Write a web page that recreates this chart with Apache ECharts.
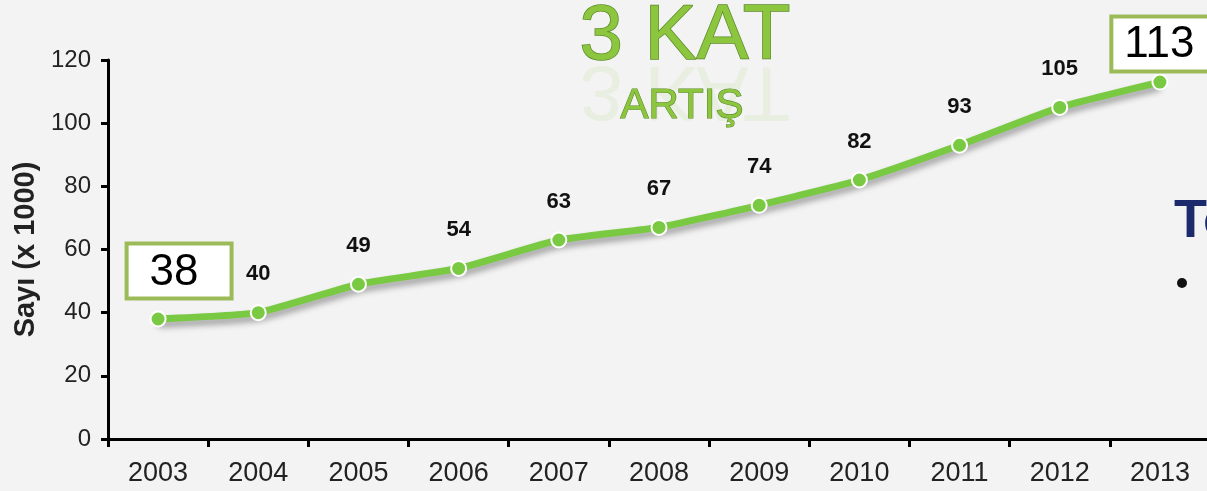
<!DOCTYPE html>
<html>
<head>
<meta charset="utf-8">
<script src="https://cdn.jsdelivr.net/npm/echarts@6/dist/echarts.min.js"></script>
<style>
  html, body { margin: 0; padding: 0; background: #f3f3f3; }
  #main { width: 1207px; height: 491px; }
</style>
</head>
<body>
<div id="main"></div>
<script>
// data
var years = ['2003', '2004', '2005', '2006', '2007', '2008', '2009', '2010', '2011', '2012', '2013'];
var counts = [38, 40, 49, 54, 63, 67, 74, 82, 93, 105, 113];
var yTicks = [0, 20, 40, 60, 80, 100, 120];

var green = '#7ac943';
var boxGreen = '#9bbb59';

var chart = echarts.init(document.getElementById('main'));

// first and last points get the boxed label
function boxLabel(offset, pad) {
  return {
    show: true,
    position: 'top',
    distance: 0,
    offset: offset,
    color: '#000',
    fontFamily: 'Liberation Sans, Arial, sans-serif',
    fontSize: 44,
    fontWeight: 'normal',
    lineHeight: 44,
    backgroundColor: '#fff',
    borderColor: boxGreen,
    borderWidth: 4,
    padding: pad
  };
}

var seriesData = counts.map(function (v, i) {
  var d = { value: v };
  if (i === 0) d.label = boxLabel([21, -14], [5, 31, 2, 21]);
  if (i === counts.length - 1) d.label = boxLabel([9, -4], [4, 30, 3, 11]);
  return d;
});

var option = {
  backgroundColor: '#f3f3f3',
  animation: false,
  grid: { left: 108, top: 60, bottom: 52, width: 1102, outerBoundsMode: 'none' },
  xAxis: {
    type: 'category',
    data: years,
    boundaryGap: true,
    axisLine: { lineStyle: { color: '#000', width: 3 } },
    axisTick: { show: true, length: 8, lineStyle: { color: '#000', width: 3 } },
    axisLabel: { color: '#222', fontFamily: 'Liberation Sans, Arial', fontSize: 27, margin: 21 },
    splitLine: { show: false }
  },
  yAxis: {
    type: 'value',
    min: yTicks[0],
    max: yTicks[yTicks.length - 1],
    interval: yTicks[1] - yTicks[0],
    name: 'Sayı (x 1000)',
    nameLocation: 'middle',
    nameGap: 67,
    nameTextStyle: { color: '#222', fontFamily: 'Liberation Sans, Arial', fontSize: 29, fontWeight: 'bold' },
    axisLine: { show: true, lineStyle: { color: '#000', width: 3 } },
    axisTick: { show: true, length: 7, lineStyle: { color: '#000', width: 3 } },
    axisLabel: { color: '#222', fontFamily: 'Liberation Sans, Arial', fontSize: 24, margin: 17 },
    splitLine: { show: false }
  },
  series: [{
    type: 'line',
    data: seriesData,
    smooth: 0.15,
    symbol: 'circle',
    symbolSize: 15,
    itemStyle: { color: green, borderColor: '#fff', borderWidth: 2 },
    lineStyle: {
      color: green, width: 7,
      shadowColor: 'rgba(0,0,0,0.35)', shadowBlur: 6, shadowOffsetY: 5
    },
    label: {
      show: true,
      position: 'top',
      distance: 19,
      color: '#111',
      fontFamily: 'Liberation Sans, Arial',
      fontSize: 22,
      fontWeight: 'bold'
    }
  }],
  graphic: [
    // "3 KAT" + faint reflection
    {
      type: 'text', x: 685, y: 76, z: 10,
      style: {
        text: '3 KAT', font: '78px "Liberation Sans", Arial',
        textAlign: 'center', textVerticalAlign: 'bottom',
        fill: '#8cc63f', stroke: '#5d8a28', lineWidth: 1.5
      }
    },
    {
      type: 'text', x: 685, y: 50, scaleY: -1, z: 9,
      style: {
        text: '3 KAT', font: '78px "Liberation Sans", Arial',
        textAlign: 'center', textVerticalAlign: 'bottom',
        fill: 'rgba(140,198,63,0.1)'
      }
    },
    {
      type: 'text', x: 682, y: 106, z: 10,
      style: {
        text: 'ARTIŞ', font: '42px "Liberation Sans", Arial',
        textAlign: 'center', textVerticalAlign: 'middle',
        fill: '#8cc63f', stroke: '#5d8a28', lineWidth: 1.2
      }
    },
    // slide text cut off at the right edge
    {
      type: 'text', x: 1174, y: 222, z: 10,
      style: {
        text: 'To', font: 'bold 54px "Liberation Sans", Arial',
        textAlign: 'left', textVerticalAlign: 'middle', fill: '#1c2a6b'
      }
    },
    {
      type: 'circle', z: 10,
      shape: { cx: 1182, cy: 283, r: 5 },
      style: { fill: '#111' }
    }
  ]
};

chart.setOption(option);
</script>
</body>
</html>
